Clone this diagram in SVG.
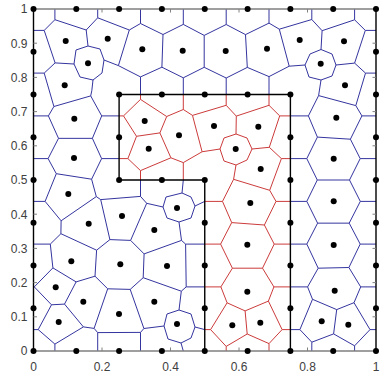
<svg xmlns="http://www.w3.org/2000/svg" width="384" height="379" viewBox="0 0 384 379">
<style>
.b{stroke:#34349f;fill:none;stroke-width:1}
.r{stroke:#cc3b3b;fill:none;stroke-width:1}
.k{stroke:#000;fill:none;stroke-width:1.4}
.g{stroke:#808080;fill:none;stroke-width:1.6}
.t{stroke:#808080;stroke-width:1}
.d{fill:#000}
text{font-family:"Liberation Sans",Arial,sans-serif;font-size:12px;fill:#404040}
</style>
<rect width="384" height="379" fill="#fff"/>
<g id="connectors">
<path class="b" d="M54.9 9V19.7M33.5 30.4H44.2M54.9 19.7L44.2 30.4M54.9 19.7L86.2 30L97.7 17.8M97.7 9V17.8M86.2 30L88 46M44.2 30.4L55.1 62.9L74 64M55.1 62.9L44.2 73.1M33.5 73.1H44.2M44.2 73.1L53.9 106.5L48.4 115.9M33.5 115.9H48.4M93 80L91.8 90.7L90.7 95.9M53.9 106.5L90.7 95.9M97.7 17.8L129.3 30L118.4 65.6L104 60M76 50L88 46L100 49L104 60L102 73L93 80L80 77L74 64ZM129.3 30L140.5 23.5M140.5 9V23.5M140.5 23.5L163 34.5L161.9 67.2L140.5 76.9L118.4 65.6M140.5 76.9V94.5M163 34.5L183.3 24.4M183.3 9V24.4M183.3 24.4L204.2 35.4V67.3L183.3 77.8L161.9 67.2M183.3 77.8V94.5M204.2 35.4L226.2 24.5M226.2 9V24.5M226.2 24.5L245.5 34.6L247.3 67.4L226.2 78L204.2 67.3M226.2 78V94.5M245.5 34.6L269 23.1M269 9V23.1M269 23.1L279.3 29.2L289.2 66.2L269 76.6L247.3 67.4M269 76.6V94.5M279.3 29.2L311.8 19.5M311.8 9V19.5M311.8 19.5L322.1 30.7L321 49.5M289.2 66.2L305 65M310 54L321 49.5L332 54L336 65L332 76L321 80L309 77L305 65ZM322.1 30.7L354.6 19.8M354.6 9V19.8M354.6 19.8L365.3 30.4M376 30.4H365.3M365.3 30.4L354.6 63.1L336 65M354.6 63.1L365.5 73.1M376 73.1H365.5M365.5 73.1L355.8 105.6L318.6 95.6L321 80M355.8 105.6L361.9 115.9M376 115.9H361.9M361.9 115.9L350.4 139.2L317.4 137.1L308.4 115.9L318.6 95.6M308.4 115.9H290.4M350.4 139.2L360.2 158.6M376 158.6H360.2M317.4 137.1L306.8 158.6M290.4 158.6H306.8M360.2 158.6L349.5 180H317.3L306.8 158.6M349.5 180L360.3 201.4M376 201.4H360.3M317.3 180L306.8 201.4M290.4 201.4H306.8M360.3 201.4L349.2 223.15H317.6L306.8 201.4M349.2 223.15L360.2 244.1M376 244.1H360.2M317.6 223.15L306.8 244.1M290.4 244.1H306.8M360.2 244.1L348.9 267.5L318.2 268.2L306.8 244.1M348.9 267.5L360.7 286.9M376 286.9H360.7M318.2 268.2L307.6 286.9M290.4 286.9H307.6M360.7 286.9L354 302.7L336.7 309.6L312.5 299.3L307.6 286.9M312.5 299.3L299.9 329.6M290.4 329.6H299.9M299.9 329.6L311.8 342.2M311.8 351V342.2M311.8 342.2L333.6 333.9L336.7 309.6M333.6 333.9L354.6 345.8M354.6 351V345.8M354.6 345.8L370 329.6M376 329.6H370M370 329.6L354 302.7M90.7 95.9L101.7 115.9H119.1M101.7 115.9L92.4 138.35M48.4 115.9L58.5 138.35H92.4M58.5 138.35L48.1 158.6M33.5 158.6H48.1M92.4 138.35L101.6 158.6H119.1M48.1 158.6L56.3 173.7L91.6 179.2L101.6 158.6M56.3 173.7L45.1 201.4M33.5 201.4H45.1M45.1 201.4L61.1 220.8L96.3 196.6L91.6 179.2M61.1 220.8L60.9 233.7L50.3 244.1M33.5 244.1H50.3M50.3 244.1L52.9 267.9L76.1 281.9M60.9 233.7L96.6 250.2L95 276.2L76.1 281.9M96.3 196.6L100.7 199.6L109.9 239.6L96.6 250.2M100.7 199.6L140.5 196.4V180M140.5 196.4L146.7 203.3L130.6 240.4L109.9 239.6M183.3 180L182 193M146.7 203.3L163 207M204.75 201.4L195 206M179 222L181.5 240.4M166 197L182 193L191 197L195 206L191 218L179 222L167 218L163 207ZM181.5 240.4L144.1 253.9L130.6 240.4M144.1 253.9L143.2 277.7L130.2 289.4L107.7 288.8L95 276.2M181.5 240.4L185.6 244.1H204.75M185.6 244.1L186.2 286.9H204.75M186.2 286.9L181.3 291.2L143.2 277.7M181.3 291.2L179 310M167 314L179 310L191 314L195 327L191 338L181 343L168 339L164 326ZM204.75 329.6L195 327M183.3 351L181 343M143.9 328.5L164 326M130.2 289.4L143.9 328.5L140.5 332.4V351M140.5 332.4L97.7 332.6V351M107.7 288.8L94.1 328.4L97.7 332.6M94.1 328.4L83.4 326.9M76.1 281.9L64.5 304.1L83.4 326.9M52.9 267.9L34.3 286.9H33.5M34.3 286.9L51.5 304.8L64.5 304.1M51.5 304.8L38.2 329.6H33.5M38.2 329.6L54.9 344.1V351M83.4 326.9L54.9 344.1"/>
<path class="r" d="M140.5 94.5V99.4M119.1 115.9H123.5M140.5 99.4L123.5 115.9L136.5 136.3L127.9 158.6M119.1 158.6H127.9M127.9 158.6L140.5 170.6V180M136.5 136.3L159.9 132.9M140.5 99.4L166.7 116.5L159.9 132.9M166.7 116.5L183.3 109.5M183.3 94.5V109.5M183.3 109.5L192.5 115.4L226.2 105.3M226.2 94.5V105.3M226.2 105.3L236.3 116.1L269 105.3M269 94.5V105.3M269 105.3L279.7 115.9H290.4M279.7 115.9L269.3 147.3M236.3 116.1L236 134M252 149L269.3 147.3L281.4 158.6H290.4M281.4 158.6L269.7 190.3L276 201.4H290.4M236 165L233.6 179.3L269.7 190.3M192.5 115.4L202.1 151.75L220 149M224 138L236 134L247 138L252 149L247 160L236 165L224 161L220 149ZM202.1 151.75L183.3 162.6V180M159.9 132.9L170.9 157.8L183.3 162.6M170.9 157.8L140.5 170.6M233.6 179.3L222.5 201.4H204.75M222.5 201.4L231.7 222.6L264.4 225L276 201.4M231.7 222.6L220.6 244.1H204.75M264.4 225L274.2 244.1H290.4M220.6 244.1L232.4 268.2H262.5L274.2 244.1M232.4 268.2L220.9 286.9H204.75M262.5 268.2L273.9 286.9H290.4M220.9 286.9L227.1 302.8L245.1 310.9L268.4 301.1L273.9 286.9M227.1 302.8L210.6 329.6H204.75M210.6 329.6L226.2 346.4V351M226.2 346.4L247.2 334L245.1 310.9M247.2 334L269 343.6V351M268.4 301.1L282.1 329.6H290.4M269 343.6L282.1 329.6"/>
</g>
<g id="frame">
<path class="g" d="M33.5 9H376M33.5 351H376"/>
<path class="k" d="M33.5 9V351M376 9V351M119.1 180V94.5H290.4V351M119.1 180H204.75V351"/>
<path class="t" d="M102 351v-3.5M170.5 351v-3.5M239 351v-3.5M307.5 351v-3.5M102 9v3.5M170.5 9v3.5M239 9v3.5M307.5 9v3.5M33.5 316.8h3.5M33.5 282.6h3.5M33.5 248.4h3.5M33.5 214.2h3.5M33.5 180h3.5M33.5 145.8h3.5M33.5 111.6h3.5M33.5 77.4h3.5M33.5 43.2h3.5M376 316.8h-3.5M376 282.6h-3.5M376 248.4h-3.5M376 214.2h-3.5M376 180h-3.5M376 145.8h-3.5M376 111.6h-3.5M376 77.4h-3.5M376 43.2h-3.5"/>
</g>
<g id="labels">
<text x="33.5" y="371" text-anchor="middle">0</text>
<text x="102" y="371" text-anchor="middle">0.2</text>
<text x="170.5" y="371" text-anchor="middle">0.4</text>
<text x="239" y="371" text-anchor="middle">0.6</text>
<text x="307.5" y="371" text-anchor="middle">0.8</text>
<text x="376" y="371" text-anchor="middle">1</text>
<text x="27.5" y="355.3" text-anchor="end">0</text>
<text x="27.5" y="321.1" text-anchor="end">0.1</text>
<text x="27.5" y="286.9" text-anchor="end">0.2</text>
<text x="27.5" y="252.7" text-anchor="end">0.3</text>
<text x="27.5" y="218.5" text-anchor="end">0.4</text>
<text x="27.5" y="184.3" text-anchor="end">0.5</text>
<text x="27.5" y="150.1" text-anchor="end">0.6</text>
<text x="27.5" y="115.9" text-anchor="end">0.7</text>
<text x="27.5" y="81.7" text-anchor="end">0.8</text>
<text x="27.5" y="47.5" text-anchor="end">0.9</text>
<text x="27.5" y="13.3" text-anchor="end">1</text>
</g>
<g id="nodes">
<g id="t0"><circle class="d" cx="33.5" cy="9" r="3"/></g>
<g id="t1"><circle class="d" cx="76.3" cy="9" r="3"/></g>
<g id="t2"><circle class="d" cx="119.1" cy="9" r="3"/></g>
<g id="t3"><circle class="d" cx="161.9" cy="9" r="3"/></g>
<g id="t4"><circle class="d" cx="204.75" cy="9" r="3"/></g>
<g id="t5"><circle class="d" cx="247.6" cy="9" r="3"/></g>
<g id="t6"><circle class="d" cx="290.4" cy="9" r="3"/></g>
<g id="t7"><circle class="d" cx="333.2" cy="9" r="3"/></g>
<g id="t8"><circle class="d" cx="376" cy="9" r="3"/></g>
<g id="u0"><circle class="d" cx="33.5" cy="351" r="3"/></g>
<g id="u1"><circle class="d" cx="76.3" cy="351" r="3"/></g>
<g id="u2"><circle class="d" cx="119.1" cy="351" r="3"/></g>
<g id="u3"><circle class="d" cx="161.9" cy="351" r="3"/></g>
<g id="u4"><circle class="d" cx="204.75" cy="351" r="3"/></g>
<g id="u5"><circle class="d" cx="247.6" cy="351" r="3"/></g>
<g id="u6"><circle class="d" cx="290.4" cy="351" r="3"/></g>
<g id="u7"><circle class="d" cx="333.2" cy="351" r="3"/></g>
<g id="u8"><circle class="d" cx="376" cy="351" r="3"/></g>
<g id="l1"><circle class="d" cx="33.5" cy="51.75" r="3"/></g>
<g id="l2"><circle class="d" cx="33.5" cy="94.5" r="3"/></g>
<g id="l3"><circle class="d" cx="33.5" cy="137.25" r="3"/></g>
<g id="l4"><circle class="d" cx="33.5" cy="180" r="3"/></g>
<g id="l5"><circle class="d" cx="33.5" cy="222.75" r="3"/></g>
<g id="l6"><circle class="d" cx="33.5" cy="265.5" r="3"/></g>
<g id="l7"><circle class="d" cx="33.5" cy="308.25" r="3"/></g>
<g id="r1"><circle class="d" cx="376" cy="51.75" r="3"/></g>
<g id="r2"><circle class="d" cx="376" cy="94.5" r="3"/></g>
<g id="r3"><circle class="d" cx="376" cy="137.25" r="3"/></g>
<g id="r4"><circle class="d" cx="376" cy="180" r="3"/></g>
<g id="r5"><circle class="d" cx="376" cy="222.75" r="3"/></g>
<g id="r6"><circle class="d" cx="376" cy="265.5" r="3"/></g>
<g id="r7"><circle class="d" cx="376" cy="308.25" r="3"/></g>
<g id="b1"><circle class="d" cx="119.1" cy="94.5" r="3"/></g>
<g id="b2"><circle class="d" cx="161.9" cy="94.5" r="3"/></g>
<g id="b3"><circle class="d" cx="204.75" cy="94.5" r="3"/></g>
<g id="b4"><circle class="d" cx="247.6" cy="94.5" r="3"/></g>
<g id="b5"><circle class="d" cx="290.4" cy="94.5" r="3"/></g>
<g id="b6"><circle class="d" cx="290.4" cy="137.25" r="3"/></g>
<g id="b7"><circle class="d" cx="290.4" cy="180" r="3"/></g>
<g id="b8"><circle class="d" cx="290.4" cy="222.75" r="3"/></g>
<g id="b9"><circle class="d" cx="290.4" cy="265.5" r="3"/></g>
<g id="b10"><circle class="d" cx="290.4" cy="308.25" r="3"/></g>
<g id="b11"><circle class="d" cx="119.1" cy="137.25" r="3"/></g>
<g id="b12"><circle class="d" cx="119.1" cy="180" r="3"/></g>
<g id="b13"><circle class="d" cx="161.9" cy="180" r="3"/></g>
<g id="b14"><circle class="d" cx="204.75" cy="180" r="3"/></g>
<g id="b15"><circle class="d" cx="204.75" cy="222.75" r="3"/></g>
<g id="b16"><circle class="d" cx="204.75" cy="265.5" r="3"/></g>
<g id="b17"><circle class="d" cx="204.75" cy="308.25" r="3"/></g>
<g id="p1"><circle class="d" cx="65.7" cy="41" r="3"/></g>
<g id="p2"><circle class="d" cx="107.7" cy="38.7" r="3"/></g>
<g id="p3"><circle class="d" cx="142.3" cy="49.3" r="3"/></g>
<g id="p4"><circle class="d" cx="182.7" cy="50.7" r="3"/></g>
<g id="p5"><circle class="d" cx="88" cy="63.3" r="3"/></g>
<g id="p6"><circle class="d" cx="64.7" cy="85.3" r="3"/></g>
<g id="p7"><circle class="d" cx="74.3" cy="118.7" r="3"/></g>
<g id="p8"><circle class="d" cx="74" cy="158" r="3"/></g>
<g id="p9"><circle class="d" cx="225.7" cy="51" r="3"/></g>
<g id="p10"><circle class="d" cx="267" cy="48.7" r="3"/></g>
<g id="p11"><circle class="d" cx="299.7" cy="40" r="3"/></g>
<g id="p12"><circle class="d" cx="344" cy="41.3" r="3"/></g>
<g id="p13"><circle class="d" cx="320.7" cy="63.7" r="3"/></g>
<g id="p14"><circle class="d" cx="345" cy="85.3" r="3"/></g>
<g id="p15"><circle class="d" cx="336.3" cy="117.7" r="3"/></g>
<g id="p16"><circle class="d" cx="333.7" cy="158.7" r="3"/></g>
<g id="e1"><circle class="d" cx="144.7" cy="121" r="3"/></g>
<g id="e2"><circle class="d" cx="148.7" cy="148.7" r="3"/></g>
<g id="e3"><circle class="d" cx="179" cy="135.3" r="3"/></g>
<g id="e4"><circle class="d" cx="214" cy="126" r="3"/></g>
<g id="e5"><circle class="d" cx="258.3" cy="126.7" r="3"/></g>
<g id="e6"><circle class="d" cx="235.7" cy="149" r="3"/></g>
<g id="e7"><circle class="d" cx="260.7" cy="169" r="3"/></g>
<g id="e8"><circle class="d" cx="250.3" cy="203" r="3"/></g>
<g id="e9"><circle class="d" cx="247.3" cy="244.7" r="3"/></g>
<g id="e10"><circle class="d" cx="247.3" cy="291.7" r="3"/></g>
<g id="e11"><circle class="d" cx="232.3" cy="325.3" r="3"/></g>
<g id="e12"><circle class="d" cx="260.3" cy="322.7" r="3"/></g>
<g id="q1"><circle class="d" cx="68.3" cy="194" r="3"/></g>
<g id="q2"><circle class="d" cx="122" cy="216" r="3"/></g>
<g id="q3"><circle class="d" cx="177" cy="208" r="3"/></g>
<g id="q4"><circle class="d" cx="88.7" cy="223.7" r="3"/></g>
<g id="q5"><circle class="d" cx="154.3" cy="230" r="3"/></g>
<g id="q6"><circle class="d" cx="71.3" cy="261.3" r="3"/></g>
<g id="q7"><circle class="d" cx="120.3" cy="264.3" r="3"/></g>
<g id="q8"><circle class="d" cx="167" cy="266" r="3"/></g>
<g id="q9"><circle class="d" cx="55.7" cy="287.3" r="3"/></g>
<g id="q10"><circle class="d" cx="83.3" cy="301.7" r="3"/></g>
<g id="q11"><circle class="d" cx="119" cy="314" r="3"/></g>
<g id="q12"><circle class="d" cx="154.3" cy="301.7" r="3"/></g>
<g id="q13"><circle class="d" cx="58.7" cy="322" r="3"/></g>
<g id="q14"><circle class="d" cx="177" cy="324" r="3"/></g>
<g id="s1"><circle class="d" cx="333.7" cy="201.3" r="3"/></g>
<g id="s2"><circle class="d" cx="333.7" cy="245" r="3"/></g>
<g id="s3"><circle class="d" cx="334.7" cy="290.7" r="3"/></g>
<g id="s4"><circle class="d" cx="321.7" cy="321.3" r="3"/></g>
<g id="s5"><circle class="d" cx="348.3" cy="324.7" r="3"/></g>
</g>
</svg>
